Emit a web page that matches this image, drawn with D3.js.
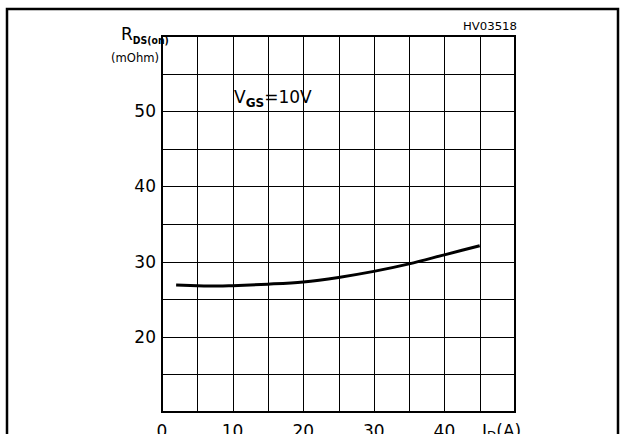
<!DOCTYPE html>
<html><head><meta charset="utf-8">
<script src="https://cdn.jsdelivr.net/npm/d3@7"></script>
<style>body{margin:0;background:#fff}svg{display:block}text{font-family:"DejaVu Sans",sans-serif;fill:#000}</style>
</head><body>
<script>
const xTicks=[0,10,20,30,40];
const yTicks=[20,30,40,50];
const idA=[2,5,8,10,15,20,25,30,35,40,45];
const rdsOn=[26.9,26.8,26.75,26.8,27.0,27.3,27.9,28.7,29.7,30.9,32.1];

const W=625,H=434;
const svg=d3.select("body").append("svg").attr("width",W).attr("height",H);
const x=d3.scaleLinear().domain([0,50]).range([162,515]);
const y=d3.scaleLinear().domain([10,60]).range([412,36]);

// outer frame
svg.append("path").attr("d",`M7,${H+5}V9H618V${H+5}`).attr("fill","none").attr("stroke","#000").attr("stroke-width",2.5);

// grid
const gx=d3.range(0,51,5), gy=d3.range(10,61,5);
svg.append("g").selectAll("line").data(gx).join("line")
 .attr("x1",d=>Math.round(x(d))+0.5).attr("x2",d=>Math.round(x(d))+0.5)
 .attr("y1",y(60)).attr("y2",y(10)).attr("stroke","#000").attr("stroke-width",1);
svg.append("g").selectAll("line").data(gy).join("line")
 .attr("y1",d=>Math.round(y(d))+0.5).attr("y2",d=>Math.round(y(d))+0.5)
 .attr("x1",x(0)).attr("x2",x(50)).attr("stroke","#000").attr("stroke-width",1);
// frame
svg.append("rect").attr("x",x(0)).attr("y",y(60)).attr("width",x(50)-x(0)).attr("height",y(10)-y(60))
 .attr("fill","none").attr("stroke","#000").attr("stroke-width",2);

// curve
const line=d3.line().x((d,i)=>x(d)).y((d,i)=>y(rdsOn[i])).curve(d3.curveMonotoneX);
svg.append("path").attr("d",line(idA)).attr("fill","none").attr("stroke","#000").attr("stroke-width",3);

// y tick labels
svg.append("g").selectAll("text").data(yTicks).join("text")
 .attr("x",156).attr("y",d=>y(d)+6).attr("text-anchor","end").attr("font-size",17).text(d=>d);
// x tick labels
svg.append("g").selectAll("text").data(xTicks).join("text")
 .attr("x",d=>x(d)).attr("y",437).attr("text-anchor","middle").attr("font-size",17).text(d=>d);
const xl=svg.append("text").attr("x",482).attr("y",437).attr("font-size",17);
xl.append("tspan").text("I");
xl.append("tspan").attr("font-size",12).attr("dy",3).text("D");
xl.append("tspan").attr("dy",-3).text("(A)");

// y axis title
const yl=svg.append("text").attr("x",121).attr("y",40).attr("font-size",17);
yl.append("tspan").text("R");
yl.append("tspan").attr("font-size",11).attr("font-weight","bold").attr("dy",4).attr("textLength",36).attr("lengthAdjust","spacingAndGlyphs").text("DS(on)");
svg.append("text").attr("x",159).attr("y",62).attr("text-anchor","end").attr("font-size",12).attr("textLength",48).attr("lengthAdjust","spacingAndGlyphs").text("(mOhm)");

// annotation
const an=svg.append("text").attr("x",234).attr("y",103).attr("font-size",17);
an.append("tspan").text("V");
an.append("tspan").attr("font-size",12).attr("font-weight","bold").attr("dy",4).text("GS");
an.append("tspan").attr("dy",-4).text("=10V");

svg.append("text").attr("x",517).attr("y",30).attr("text-anchor","end").attr("font-size",11).attr("textLength",54).attr("lengthAdjust","spacingAndGlyphs").text("HV03518");
</script>
</body></html>
